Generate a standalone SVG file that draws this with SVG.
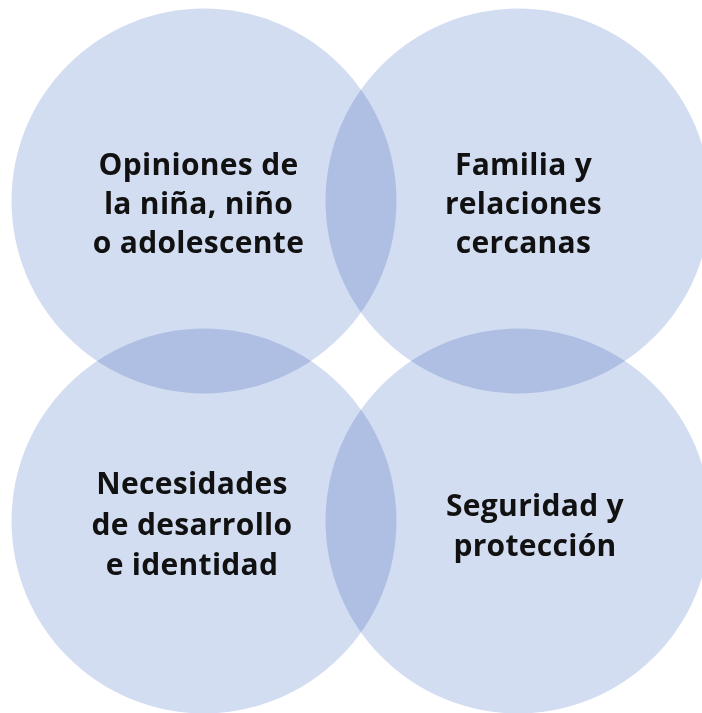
<svg xmlns="http://www.w3.org/2000/svg" width="702" height="713" viewBox="0 0 702 713">
<style>
.c{fill:#d3ddf1;mix-blend-mode:multiply}
.t{font-family:"Open Sans","Liberation Sans",sans-serif;font-weight:700;font-size:30px;letter-spacing:0.3px;fill:#111111;text-anchor:middle}
</style>
<rect width="702" height="713" fill="#ffffff"/>
<g id="connectors"></g>
<g id="circles" style="isolation:isolate">
<circle id="c-tl" class="c" cx="204" cy="201" r="192.5"/>
<circle id="c-tr" class="c" cx="518" cy="201" r="192.5"/>
<circle id="c-bl" class="c" cx="204" cy="521" r="192.5"/>
<circle id="c-br" class="c" cx="518" cy="521" r="192.5"/>
</g>
<g id="node-opiniones"><text class="t" x="198.5"><tspan x="198.5" y="174.5">Opiniones de</tspan><tspan x="198.5" y="213.5">la niña, niño</tspan><tspan x="198.5" y="252.5">o adolescente</tspan></text></g>
<g id="node-familia"><text class="t" x="523.5"><tspan x="523.5" y="174.5">Familia y</tspan><tspan x="523.5" y="213.5">relaciones</tspan><tspan x="523.5" y="252.5">cercanas</tspan></text></g>
<g id="node-necesidades"><text class="t" x="192"><tspan x="192" y="494">Necesidades</tspan><tspan x="192" y="535">de desarrollo</tspan><tspan x="192" y="575">e identidad</tspan></text></g>
<g id="node-seguridad"><text class="t" x="535"><tspan x="535" y="516">Seguridad y</tspan><tspan x="535" y="556">protección</tspan></text></g>
</svg>
